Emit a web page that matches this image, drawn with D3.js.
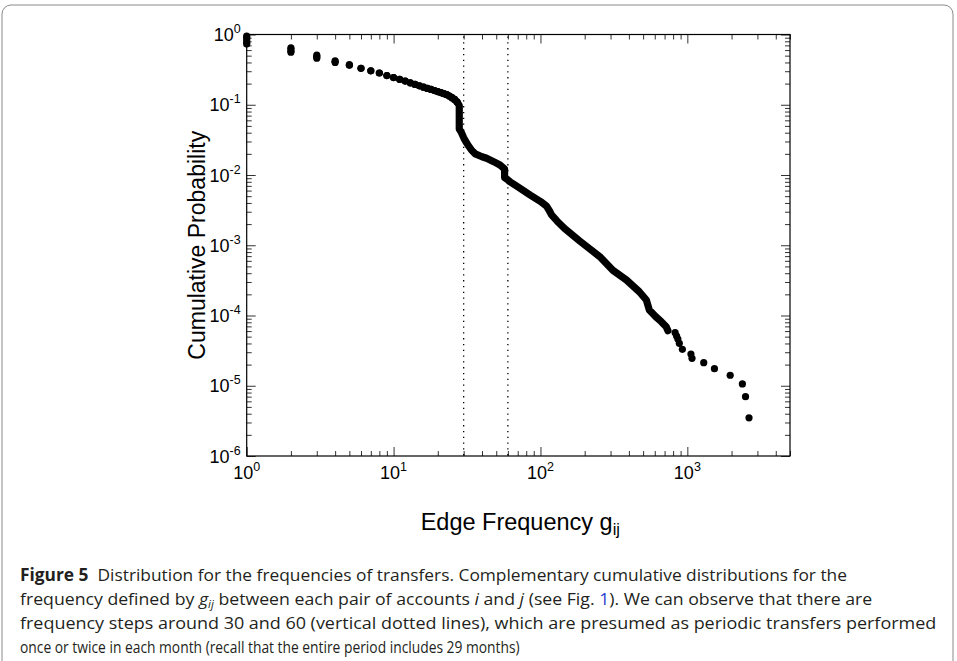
<!DOCTYPE html>
<html>
<head>
<meta charset="utf-8">
<script src="https://cdn.jsdelivr.net/npm/d3@7"></script>
<style>
  html, body { margin: 0; padding: 0; background: #fff; }
  svg { display: block; }
</style>
</head>
<body>
<svg id="chart" width="957" height="661"></svg>
<script>
// ---------- data ----------
// sparse low-frequency region: each frequency has a vertical spread (top..bottom)
const lowFreq   = [1, 2, 3, 4, 5, 6, 7, 8, 9, 10, 11, 12, 13, 14, 15, 16, 17, 18, 19, 20, 21, 22, 23, 24, 25, 26, 27];
const lowTop    = [0.95, 0.647, 0.507, 0.42, 0.372, 0.33, 0.304, 0.283, 0.26, 0.244, 0.23, 0.217, 0.205, 0.195, 0.186, 0.178, 0.171, 0.165, 0.159, 0.154, 0.149, 0.144, 0.139, 0.133, 0.126, 0.119, 0.110];
const lowBottom = [0.73, 0.56, 0.46, 0.40, 0.364, 0.33, 0.304, 0.283, 0.26, 0.244, 0.23, 0.217, 0.205, 0.195, 0.186, 0.178, 0.171, 0.165, 0.159, 0.154, 0.149, 0.144, 0.139, 0.133, 0.126, 0.119, 0.110];

// dense mid region (points merge into a continuous band)
const midFreq = [27, 28, 28, 29, 30, 31, 32, 34, 36, 40, 43, 48, 53, 56, 57, 57, 60, 62, 70, 85, 100, 110, 115, 119, 130, 146, 185, 253, 311, 385, 471, 526, 551, 610, 665, 718, 738];
const midProb = [0.110, 0.098, 0.045, 0.040, 0.034, 0.030, 0.027, 0.0225, 0.020, 0.0182, 0.0173, 0.0155, 0.0139, 0.0126, 0.0122, 0.0092, 0.0085, 0.0080, 0.0068, 0.0052, 0.0042, 0.0036, 0.0031, 0.0027, 0.0022, 0.00173, 0.00115, 0.00069, 0.00044, 0.00032, 0.000218, 0.000166, 0.00012, 0.0000961, 0.0000816, 0.0000692, 0.0000608];

// sparse tail
const tailFreq = [826, 845, 862, 882, 925, 1058, 1076, 1293, 1530, 1958, 2370, 2490, 2630];
const tailProb = [5.69e-5, 5.1e-5, 4.63e-5, 4.02e-5, 3.3e-5, 2.83e-5, 2.46e-5, 2.13e-5, 1.75e-5, 1.41e-5, 1.06e-5, 6.98e-6, 3.5e-6];

// reference lines
const stepLines = [30, 60];

// tick labels
const xMajor = [1, 10, 100, 1000];
const xExp   = ["0", "1", "2", "3"];
const yMajor = [1, 1e-1, 1e-2, 1e-3, 1e-4, 1e-5, 1e-6];
const yExp   = ["0", "-1", "-2", "-3", "-4", "-5", "-6"];

const xTitle = "Edge Frequency g";
const xTitleSub = "ij";
const yTitle = "Cumulative Probability";

// ---------- layout ----------
const svg = d3.select("#chart");
const L = 246.7, R = 790, T = 34.5, B = 456;
const x = d3.scaleLog().domain([1, 5000]).range([L, R]);
const y = d3.scaleLog().domain([1, 1e-6]).range([T, B]);
const font = "'Liberation Sans', Arial, Helvetica, sans-serif";

svg.append("rect").attr("width", 957).attr("height", 661).attr("fill", "#fff");
// figure box
svg.append("rect").attr("x", 2).attr("y", 5).attr("width", 951).attr("height", 720)
  .attr("rx", 9).attr("fill", "none").attr("stroke", "#8a8a8a").attr("stroke-width", 1);

const g = svg.append("g");

// minor/major ticks through library axes
const xMinor = x.ticks().filter(v => !xMajor.includes(v));
const yMinor = y.ticks().filter(v => !yMajor.some(m => Math.abs(m - v) / v < 1e-6));

function styleAxis(sel) {
  sel.select(".domain").remove();
  sel.selectAll("line").attr("stroke", "#333").attr("stroke-width", 1);
}
g.append("g").attr("transform", `translate(0,${B})`)
  .call(d3.axisBottom(x).tickValues(xMinor).tickSize(-5).tickSizeOuter(0).tickFormat("")).call(styleAxis);
g.append("g").attr("transform", `translate(0,${B})`)
  .call(d3.axisBottom(x).tickValues(xMajor).tickSize(-9).tickSizeOuter(0).tickFormat("")).call(styleAxis);
g.append("g").attr("transform", `translate(0,${T})`)
  .call(d3.axisTop(x).tickValues(xMinor).tickSize(-5).tickSizeOuter(0).tickFormat("")).call(styleAxis);
g.append("g").attr("transform", `translate(0,${T})`)
  .call(d3.axisTop(x).tickValues(xMajor).tickSize(-9).tickSizeOuter(0).tickFormat("")).call(styleAxis);
g.append("g").attr("transform", `translate(${L},0)`)
  .call(d3.axisLeft(y).tickValues(yMinor).tickSize(-5).tickSizeOuter(0).tickFormat("")).call(styleAxis);
g.append("g").attr("transform", `translate(${L},0)`)
  .call(d3.axisLeft(y).tickValues(yMajor).tickSize(-9).tickSizeOuter(0).tickFormat("")).call(styleAxis);
g.append("g").attr("transform", `translate(${R},0)`)
  .call(d3.axisRight(y).tickValues(yMinor).tickSize(-5).tickSizeOuter(0).tickFormat("")).call(styleAxis);
g.append("g").attr("transform", `translate(${R},0)`)
  .call(d3.axisRight(y).tickValues(yMajor).tickSize(-9).tickSizeOuter(0).tickFormat("")).call(styleAxis);

// frame
g.append("rect").attr("x", L).attr("y", T).attr("width", R - L).attr("height", B - T)
  .attr("fill", "none").attr("stroke", "#000").attr("stroke-width", 1.2);

// tick labels
xMajor.forEach((v, i) => {
  const t = g.append("text").attr("x", x(v)).attr("y", B + 23)
    .attr("text-anchor", "middle").attr("font-family", font).attr("font-size", 18).attr("fill", "#000");
  t.append("tspan").text("10");
  t.append("tspan").attr("dy", -8).attr("font-size", 12.5).text(xExp[i]);
});
yMajor.forEach((v, i) => {
  const t = g.append("text").attr("x", L - 6).attr("y", y(v) + 6.5)
    .attr("text-anchor", "end").attr("font-family", font).attr("font-size", 18).attr("fill", "#000");
  t.append("tspan").text("10");
  t.append("tspan").attr("dy", -8).attr("font-size", 12.5).text(yExp[i]);
});

// axis titles
const xt = g.append("text").attr("x", (L + R) / 2 + 2).attr("y", 530)
  .attr("text-anchor", "middle").attr("font-family", font).attr("font-size", 23.5).attr("fill", "#000");
xt.append("tspan").text(xTitle);
xt.append("tspan").attr("dy", 5).attr("font-size", 16.5).text(xTitleSub);

g.append("text").attr("transform", `translate(205,${(T + B) / 2}) rotate(-90)`)
  .attr("text-anchor", "middle").attr("font-family", font).attr("font-size", 23).attr("fill", "#000")
  .text(yTitle);

// dotted reference lines
g.selectAll("line.step").data(stepLines).join("line").attr("class", "step")
  .attr("x1", d => x(d)).attr("x2", d => x(d)).attr("y1", T + 2).attr("y2", B)
  .attr("stroke", "#000").attr("stroke-width", 1.3).attr("stroke-dasharray", "1.3,4.5");

// data marks
const R_DOT = 3.6;
const low = lowFreq.map((f, i) => ({ f, top: lowTop[i], bot: lowBottom[i] }));
g.selectAll("line.spread").data(low).join("line").attr("class", "spread")
  .attr("x1", d => x(d.f)).attr("x2", d => x(d.f))
  .attr("y1", d => y(d.top)).attr("y2", d => y(d.bot))
  .attr("stroke", "#000").attr("stroke-width", R_DOT * 2);
g.selectAll("circle.lowTop").data(low).join("circle").attr("class", "lowTop")
  .attr("cx", d => x(d.f)).attr("cy", d => y(d.top)).attr("r", R_DOT).attr("fill", "#000");
g.selectAll("circle.lowBot").data(low).join("circle").attr("class", "lowBot")
  .attr("cx", d => x(d.f)).attr("cy", d => y(d.bot)).attr("r", R_DOT).attr("fill", "#000");

const mid = midFreq.map((f, i) => [f, midProb[i]]);
g.append("path").datum(mid)
  .attr("d", d3.line().x(d => x(d[0])).y(d => y(d[1])))
  .attr("fill", "none").attr("stroke", "#000").attr("stroke-width", R_DOT * 2)
  .attr("stroke-linecap", "round").attr("stroke-linejoin", "round");

const tail = tailFreq.map((f, i) => [f, tailProb[i]]);
g.selectAll("circle.tail").data(tail).join("circle").attr("class", "tail")
  .attr("cx", d => x(d[0])).attr("cy", d => y(d[1])).attr("r", R_DOT).attr("fill", "#000");

// ---------- caption ----------
const capFont = "'Open Sans', 'Noto Sans', sans-serif";
const cap = svg.append("g").attr("font-family", capFont).attr("font-size", 17).attr("fill", "#231f20");
const lines = [
  { y: 581, len: 828, parts: [["Figure 5", "bold"], ["  Distribution for the frequencies of transfers. Complementary cumulative distributions for the"]] },
  { y: 605, len: 853, parts: [["frequency defined by "], ["g", "italic"], ["ij", "italicsub"], [" between each pair of accounts "], ["i", "italic"], [" and "], ["j", "italic"], [" (see Fig. "], ["1", "link"], ["). We can observe that there are"]] },
  { y: 629, len: 917, parts: [["frequency steps around 30 and 60 (vertical dotted lines), which are presumed as periodic transfers performed"]] },
  { y: 653, len: 500, parts: [["once or twice in each month (recall that the entire period includes 29 months)"]] }
];
lines.forEach(ln => {
  const lg = cap.append("g");
  const t = lg.append("text").attr("x", 0).attr("y", 0)
    .attr("xml:space", "preserve").style("white-space", "pre");
  let sub = false;
  ln.parts.forEach(([s, st]) => {
    const sp = t.append("tspan").text(s);
    if (st === "bold") sp.attr("font-weight", "bold");
    if (st === "italic") sp.attr("font-style", "italic");
    if (st === "italicsub") { sp.attr("font-style", "italic").attr("font-size", 11).attr("dy", 2.5); sub = true; }
    else if (sub) { sp.attr("dy", -2.5); sub = false; }
    if (st === "link") sp.attr("fill", "#2b3bd1");
  });
  const natural = t.node().getComputedTextLength() || ln.len;
  lg.attr("transform", `translate(20,${ln.y}) scale(${ln.len / natural},1)`);
});
</script>
</body>
</html>
